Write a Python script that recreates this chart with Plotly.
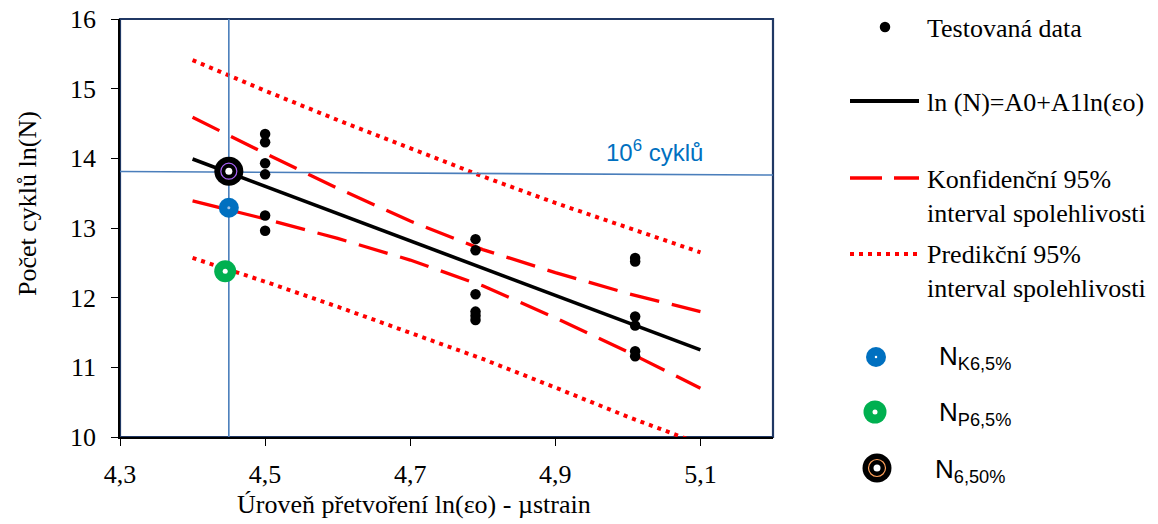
import plotly.graph_objects as go

W, H = 1158, 524

# Tested specimens: ln(strain in microstrain) vs ln(number of cycles)
test_x = [4.50, 4.50, 4.50, 4.50, 4.50, 4.50,
          4.79, 4.79, 4.79, 4.79, 4.79, 4.79,
          5.01, 5.01, 5.01, 5.01, 5.01, 5.01]
test_y = [14.35, 14.23, 13.93, 13.77, 13.18, 12.96,
          12.84, 12.68, 12.05, 11.80, 11.74, 11.68,
          12.57, 12.52, 11.73, 11.60, 11.23, 11.16]

# Regression line ln(N) = A0 + A1 ln(eps)
fit_x = [4.40, 5.10]
fit_y = [13.99, 11.25]

# 95 % confidence and prediction bands
band_x = [4.40, 4.50, 4.60, 4.70, 4.80, 4.90, 5.00, 5.10]
conf_hi = [14.59, 14.07, 13.57, 13.10, 12.69, 12.36, 12.06, 11.80]
conf_lo = [13.39, 13.13, 12.85, 12.54, 12.17, 11.71, 11.22, 10.70]
pred_hi = [15.41, 14.97, 14.55, 14.14, 13.74, 13.36, 13.00, 12.65]
pred_lo = [12.57, 12.23, 11.87, 11.50, 11.12, 10.71, 10.29, 9.90]

# Reference level of 10^6 cycles and the corresponding strain
ref_y = [13.81, 13.76]
ref_x = 4.45

# Characteristic values read at the reference strain
nk_point = (4.45, 13.29)
np_point = (4.445, 12.38)
n50_point = (4.45, 13.815)

x_ticks = [4.3, 4.5, 4.7, 4.9, 5.1]
y_ticks = [10, 11, 12, 13, 14, 15, 16]

SERIF = "Liberation Serif"
SANS = "Liberation Sans"
RED = "#FF0000"
REFBLUE = "#4A7EBB"
NAVY = "#203864"
KBLUE = "#0070C0"
PGREEN = "#00B050"

# plot area in pixels
PL, PR, PT, PB = 120, 773, 19, 437

fig = go.Figure()

# prediction band (dotted)
for yy in (pred_hi, pred_lo):
    fig.add_trace(go.Scatter(x=band_x, y=yy, mode="lines",
                             line=dict(color=RED, width=4, dash="4px,5px"),
                             showlegend=False, hoverinfo="skip"))
# confidence band (dashed)
for yy in (conf_hi, conf_lo):
    fig.add_trace(go.Scatter(x=band_x, y=yy, mode="lines",
                             line=dict(color=RED, width=3.3, dash="30px,13px"),
                             showlegend=False, hoverinfo="skip"))
# regression line
fig.add_trace(go.Scatter(x=fit_x, y=fit_y, mode="lines",
                         line=dict(color="black", width=3.6),
                         showlegend=False, hoverinfo="skip"))
# reference lines
fig.add_trace(go.Scatter(x=[4.3, 5.2], y=ref_y, mode="lines",
                         line=dict(color=REFBLUE, width=1.6),
                         showlegend=False, hoverinfo="skip"))
fig.add_trace(go.Scatter(x=[ref_x, ref_x], y=[10, 16], mode="lines",
                         line=dict(color=REFBLUE, width=1.6),
                         showlegend=False, hoverinfo="skip"))
# tested data
fig.add_trace(go.Scatter(x=test_x, y=test_y, mode="markers",
                         marker=dict(color="black", size=10.5),
                         showlegend=False))
# characteristic points
fig.add_trace(go.Scatter(x=[nk_point[0]], y=[nk_point[1]], mode="markers",
                         marker=dict(color=KBLUE, size=20), showlegend=False))
fig.add_trace(go.Scatter(x=[nk_point[0]], y=[nk_point[1]], mode="markers",
                         marker=dict(color="#9FC3E6", size=3), showlegend=False))
fig.add_trace(go.Scatter(x=[np_point[0]], y=[np_point[1]], mode="markers",
                         marker=dict(color=PGREEN, size=22), showlegend=False))
fig.add_trace(go.Scatter(x=[np_point[0]], y=[np_point[1]], mode="markers",
                         marker=dict(color="white", size=5), showlegend=False))
fig.add_trace(go.Scatter(x=[n50_point[0]], y=[n50_point[1]], mode="markers",
                         marker=dict(color="black", size=29), showlegend=False))
fig.add_trace(go.Scatter(x=[n50_point[0]], y=[n50_point[1]], mode="markers",
                         marker=dict(symbol="circle-open", size=16,
                                     line=dict(color=REFBLUE, width=1.2)),
                         showlegend=False))
fig.add_trace(go.Scatter(x=[n50_point[0]], y=[n50_point[1]], mode="markers",
                         marker=dict(color="white", size=7), showlegend=False))

# ---- hand-built legend on a full-figure pixel overlay ----
def leg(xs, ys, **kw):
    fig.add_trace(go.Scatter(x=xs, y=ys, xaxis="x2", yaxis="y2",
                             showlegend=False, hoverinfo="skip", **kw))

leg([885], [27], mode="markers", marker=dict(color="black", size=10.5))
leg([850, 919], [101, 101], mode="lines", line=dict(color="black", width=4))
leg([850, 919], [178, 178], mode="lines",
    line=dict(color=RED, width=3.3, dash="32px,12px"))
leg([850, 919], [254, 254], mode="lines",
    line=dict(color=RED, width=4, dash="4px,5px"))
leg([876], [357], mode="markers", marker=dict(color=KBLUE, size=20))
leg([876], [357], mode="markers", marker=dict(color="white", size=2.5))
leg([875], [412], mode="markers", marker=dict(color=PGREEN, size=23))
leg([875], [412], mode="markers", marker=dict(color="white", size=5))
leg([877], [468], mode="markers", marker=dict(color="black", size=29))
leg([877], [468], mode="markers",
    marker=dict(symbol="circle-open", size=17, line=dict(color=REFBLUE, width=1.2)))
leg([877], [468], mode="markers", marker=dict(color="white", size=7))

annotations = []

def txt(x, y, s, font, size, color="black", xanchor="left", **kw):
    annotations.append(dict(x=x, y=y, xref="x2", yref="y2", text=s,
                            showarrow=False, xanchor=xanchor, yanchor="middle",
                            font=dict(family=font, size=size, color=color), **kw))

txt(925, 28, "Testovaná data", SERIF, 26)
txt(925, 102, "ln (N)=A0+A1ln(εo)", SERIF, 26)
txt(925, 196, "Konfidenční 95%<br>interval spolehlivosti", SERIF, 26, align="left")
txt(925, 271, "Predikční 95%<br>interval spolehlivosti", SERIF, 26, align="left")
txt(937, 357, "N<sub>K6,5%</sub>", SANS, 26)
txt(937, 413, "N<sub>P6,5%</sub>", SANS, 26)
txt(933, 470, "N<sub>6,50%</sub>", SANS, 26)

# 10^6 cycles label
txt(654, 151, "10<sup>6</sup> cyklů", SANS, 24, color=KBLUE, xanchor="center")

# axis titles
txt(414, 504, "Úroveň přetvoření ln(εo) - µstrain", SERIF, 26, xanchor="center")
annotations.append(dict(x=27, y=204, xref="x2", yref="y2",
                        text="Počet cyklů ln(N)", showarrow=False, textangle=-90,
                        xanchor="center", yanchor="middle",
                        font=dict(family=SERIF, size=26, color="black")))

axis_common = dict(showgrid=False, zeroline=False, showline=True,
                   linecolor="black", linewidth=1.6, ticks="outside",
                   ticklen=7, tickcolor="black", tickwidth=1.4,
                   tickfont=dict(family=SERIF, size=26, color="black"))

fig.update_layout(
    width=W, height=H,
    margin=dict(l=0, r=0, t=0, b=0, autoexpand=False),
    paper_bgcolor="white", plot_bgcolor="rgba(0,0,0,0)",
    separators=", ",
    showlegend=False,
    xaxis=dict(domain=[PL / W, PR / W], range=[4.3, 5.2],
               tickvals=x_ticks, tickformat=".1f", ticklabelstandoff=6,
               anchor="y", **axis_common),
    yaxis=dict(domain=[1 - PB / H, 1 - PT / H], range=[10, 16],
               tickvals=y_ticks, ticklabelstandoff=10,
               anchor="x", **axis_common),
    xaxis2=dict(domain=[0, 1], range=[0, W], visible=False, anchor="y2",
                fixedrange=True),
    yaxis2=dict(domain=[0, 1], range=[H, 0], visible=False, anchor="x2",
                fixedrange=True),
    shapes=[dict(type="rect", xref="x domain", yref="y domain",
                 x0=0, x1=1, y0=0, y1=1,
                 line=dict(color=NAVY, width=2.2), layer="below")],
    annotations=annotations,
)

fig.write_html("out.html")
